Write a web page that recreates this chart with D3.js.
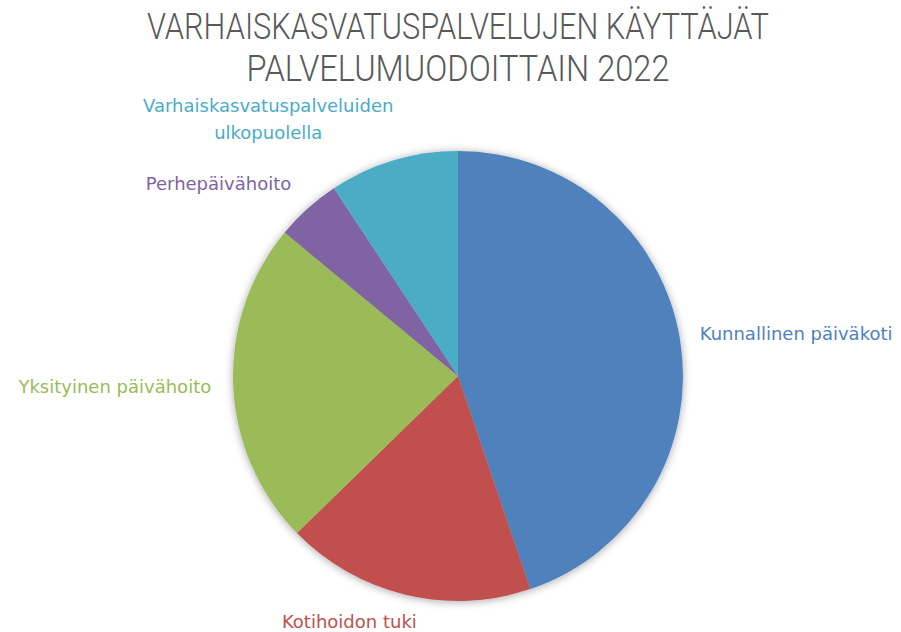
<!DOCTYPE html>
<html>
<head>
<meta charset="utf-8">
<script src="https://cdn.jsdelivr.net/npm/d3@7"></script>
<style>
  body { margin: 0; background: #fff; }
</style>
</head>
<body>
<div id="chart"></div>
<script>
// Chart data, clockwise from 12 o'clock.
const CATEGORIES = [
  "Kunnallinen päiväkoti",
  "Kotihoidon tuki",
  "Yksityinen päivähoito",
  "Perhepäivähoito",
  "Varhaiskasvatuspalveluiden ulkopuolella",
];
const VALUES = [44.8, 17.9, 23.3, 4.7, 9.3];
const COLORS = ["#4f81bd", "#c0504d", "#9bbb59", "#8064a2", "#4bacc6"];
const TITLE = ["VARHAISKASVATUSPALVELUJEN KÄYTTÄJÄT", "PALVELUMUODOITTAIN 2022"];

const WIDTH = 901;
const HEIGHT = 632;
const CX = 458;
const CY = 376;
const RADIUS = 225;
const LABEL_R = 245;
const LINE_H = 27;

// Title line widths (condensed face in the original).
const TITLE_W = [622, 423];

// Label wrapping and small nudges, as Excel laid them out.
const LABEL_LINES = [
  ["Kunnallinen päiväkoti"],
  ["Kotihoidon tuki"],
  ["Yksityinen päivähoito"],
  ["Perhepäivähoito"],
  ["Varhaiskasvatuspalveluiden", "ulkopuolella"],
];
const NUDGE = [[0, 0], [16, -6], [-2, 0], [-3, 0], [6, 4]];

let svg = d3
  .select("#chart")
  .append("svg")
  .attr("width", WIDTH)
  .attr("height", HEIGHT);

// Soft shadow around the pie.
let filter = svg.append("defs").append("filter")
  .attr("id", "shadow")
  .attr("x", "-20%").attr("y", "-20%")
  .attr("width", "140%").attr("height", "140%");
filter.append("feDropShadow")
  .attr("dx", 0).attr("dy", 1)
  .attr("stdDeviation", 4)
  .attr("flood-color", "#000")
  .attr("flood-opacity", 0.35);

// Title, squeezed to the original line widths.
svg.append("g")
  .selectAll("text")
  .data(TITLE)
  .enter()
  .append("text")
  .attr("x", CX)
  .attr("y", (d, i) => 39 + i * 42)
  .attr("text-anchor", "middle")
  .attr("textLength", (d, i) => TITLE_W[i])
  .attr("lengthAdjust", "spacingAndGlyphs")
  .style("font-family", "Roboto, 'Liberation Sans', sans-serif")
  .style("font-weight", 300)
  .style("font-size", "36px")
  .style("fill", "#595959")
  .text((d) => d);

let data = CATEGORIES.map((c, i) => ({ name: c, value: VALUES[i], i: i }));

let pie = d3.pie().sort(null).value((d) => d.value);
let arcs = pie(data);

let arc = d3.arc().innerRadius(0).outerRadius(RADIUS);
let labelArc = d3.arc().innerRadius(LABEL_R).outerRadius(LABEL_R);

let vis = svg.append("g")
  .attr("transform", "translate(" + CX + "," + CY + ")");

vis.append("g")
  .attr("filter", "url(#shadow)")
  .selectAll("path")
  .data(arcs)
  .enter()
  .append("path")
  .attr("d", arc)
  .style("fill", (d) => COLORS[d.data.i]);

// Labels outside the pie.
vis.append("g")
  .selectAll("g")
  .data(arcs)
  .enter()
  .append("g")
  .each(function (d) {
    let g = d3.select(this);
    let lines = LABEL_LINES[d.data.i];
    let mid = (d.startAngle + d.endAngle) / 2;
    let p = labelArc.centroid(d);
    let right = Math.sin(mid) > 0;
    let h = lines.length * LINE_H;
    let yc = p[1] - (Math.cos(mid) * h) / 2;
    let t = g.append("text")
      .style("font-family", "'DejaVu Sans', Tahoma, sans-serif")
      .style("font-size", "18px")
      .style("fill", COLORS[d.data.i]);
    lines.forEach((l, k) => {
      t.append("tspan")
        .attr("x", 0)
        .attr("y", yc - h / 2 + LINE_H * (k + 0.5))
        .attr("dy", "0.35em")
        .text(l);
    });
    let w = d3.max(t.selectAll("tspan").nodes(), (n) => n.getComputedTextLength());
    let x0 = right ? p[0] : p[0] - w;
    t.attr("text-anchor", "middle")
      .selectAll("tspan")
      .attr("x", x0 + w / 2);
    g.attr("transform", "translate(" + NUDGE[d.data.i][0] + "," + NUDGE[d.data.i][1] + ")");
  });
</script>
</body>
</html>
